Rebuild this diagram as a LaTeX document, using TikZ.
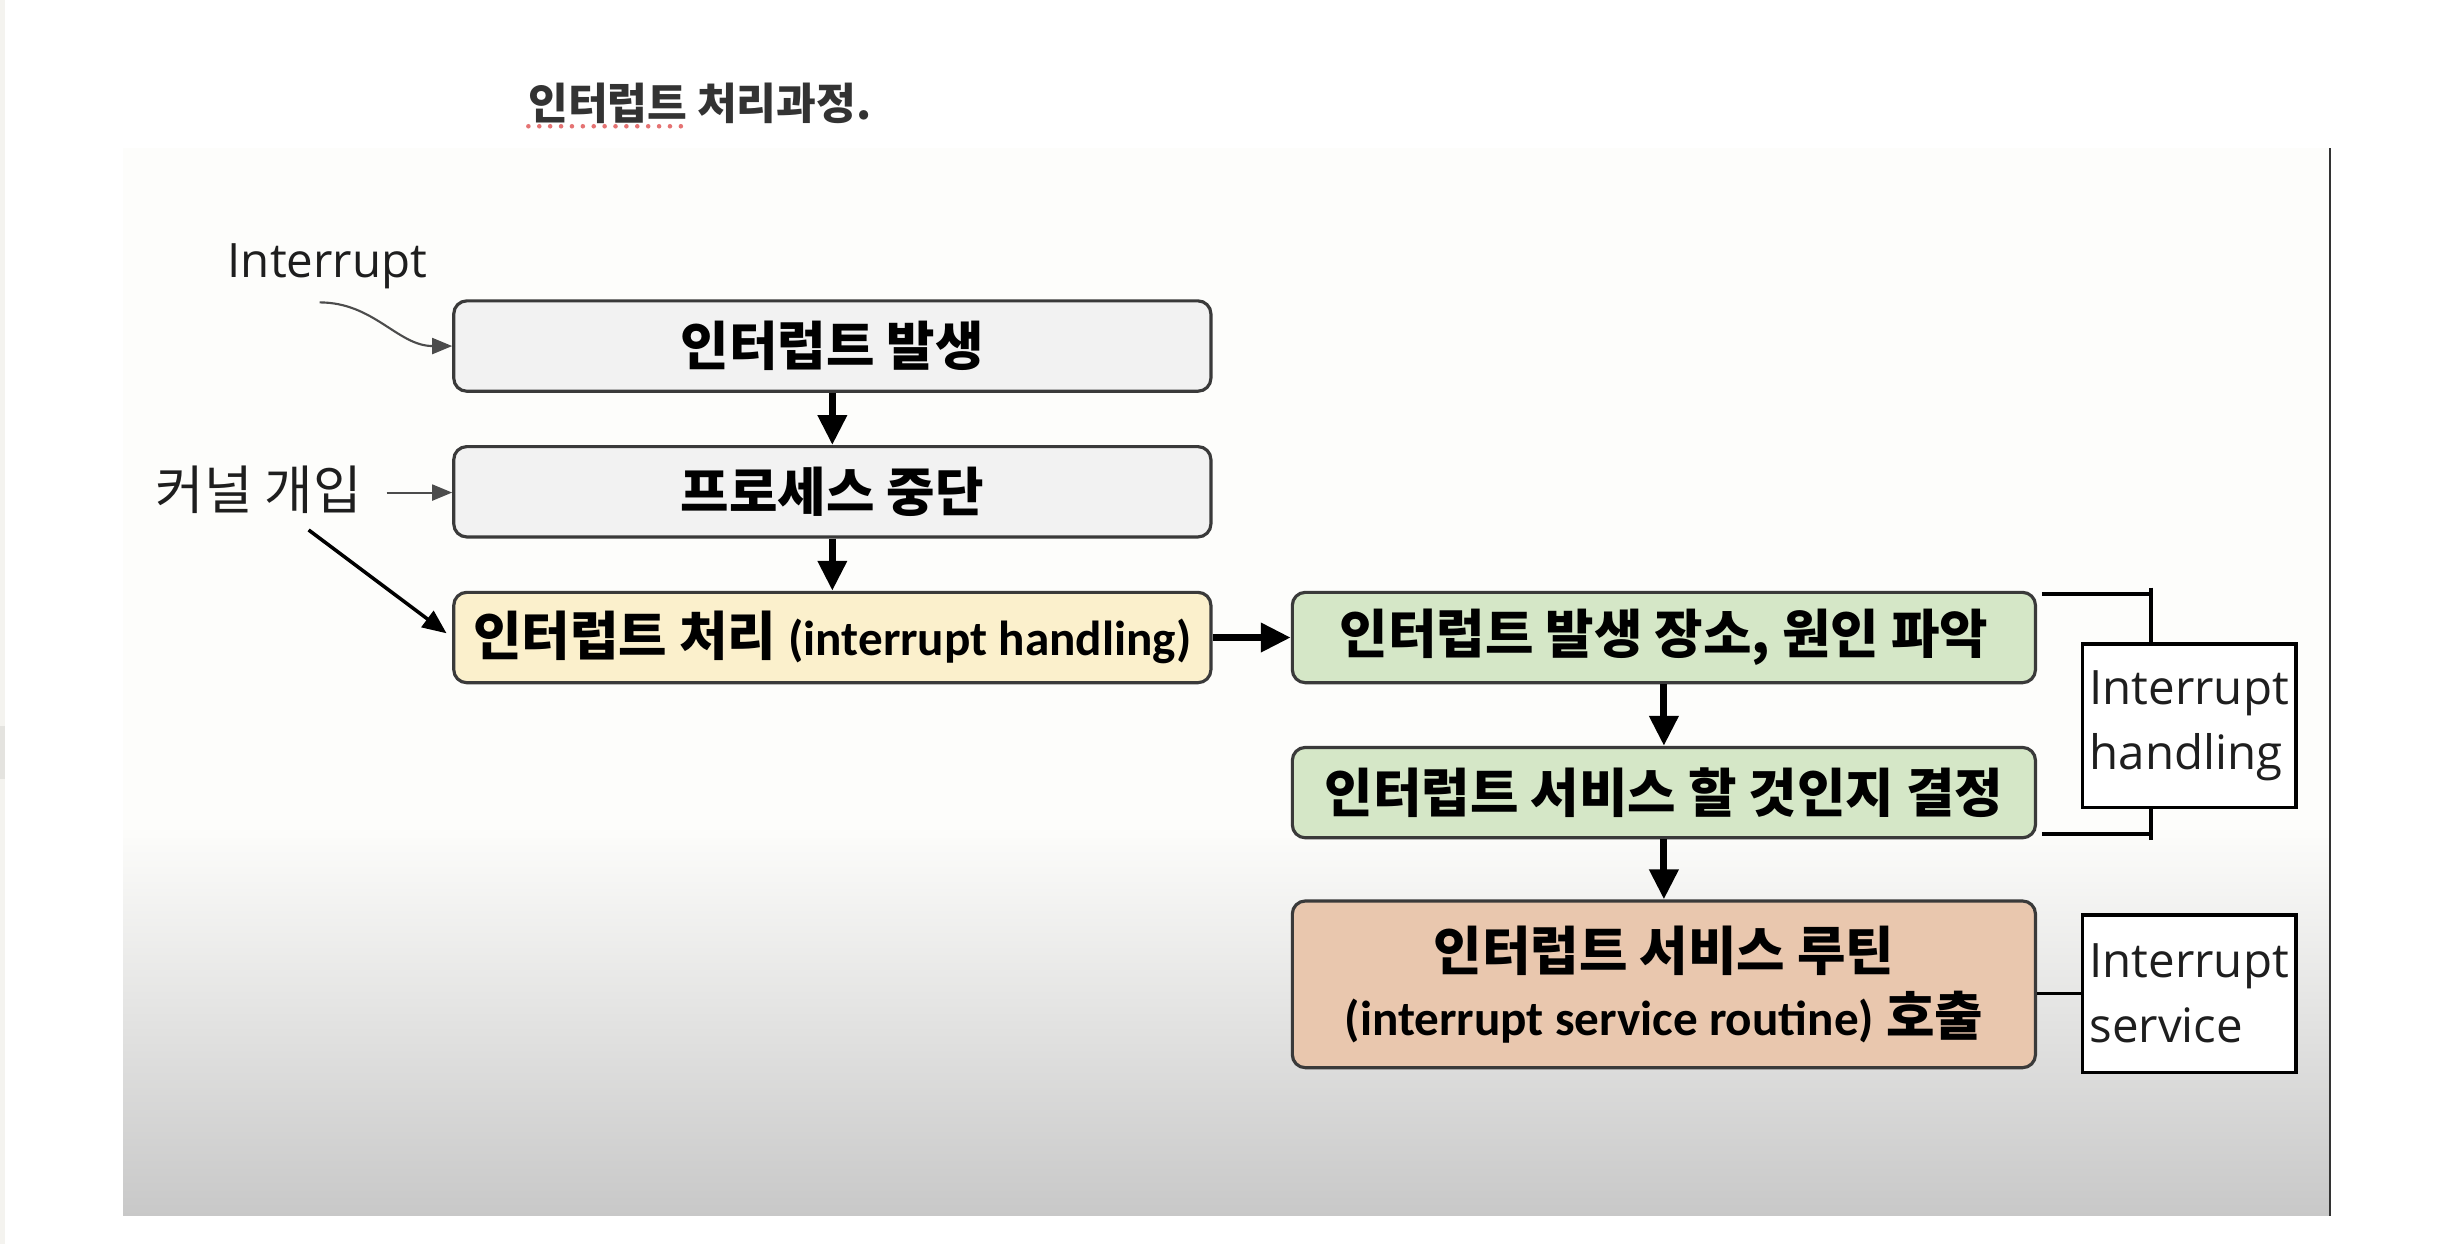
\documentclass[tikz,border=0pt]{standalone}
\usepackage{fontspec}
\setmainfont{Carlito}
\newfontfamily\kr{Noto Sans CJK KR}
\newfontfamily\seg{Open Sans}
\usetikzlibrary{arrows.meta}

\definecolor{boxgray}{HTML}{F2F2F2}
\definecolor{boxcream}{HTML}{FBF0CC}
\definecolor{boxgreen}{HTML}{D5E7C7}
\definecolor{boxpeach}{HTML}{E9C7AE}
\definecolor{boxline}{HTML}{3A3A3A}
\definecolor{slidetop}{HTML}{FDFDFB}
\definecolor{slidebottom}{HTML}{C8C8C8}
\definecolor{pagestrip}{HTML}{F4F3EF}
\definecolor{pageblock}{HTML}{E4E3DF}
\definecolor{titletext}{HTML}{333333}
\definecolor{labeltext}{HTML}{1E1E1E}
\definecolor{spellred}{HTML}{E57373}

\newcommand{\flowfont}{\fontsize{15}{18.5}\selectfont}
\newcommand{\latinpart}{\fontsize{14}{18.5}\selectfont\rmfamily}
\newcommand{\sidefont}{\fontsize{13.5}{18.5}\selectfont}

\tikzset{
  flowbox/.style={draw=boxline, line width=0.9pt, rounded corners=0.13cm,
    minimum height=0.904cm, inner sep=0pt, align=center, text=black,
    font=\flowfont\bfseries\kr},
  arr/.style={-{Triangle[length=0.3cm,width=0.28cm]}, line width=2pt},
  thinarr/.style={-{Triangle[length=0.2cm,width=0.16cm]}, line width=0.6pt, draw=black!70},
  sidebox/.style={draw=black, line width=1pt, fill=white, align=left,
    inner xsep=2pt, inner ysep=0pt, text=labeltext, font=\sidefont\seg},
  brk/.style={line width=1pt},
}

\begin{document}
\begin{tikzpicture}[x=0.015587cm, y=-0.015587cm]
  \useasboundingbox (0,0) rectangle (1568,798);

  % page and slide background
  \fill[white] (0,0) rectangle (1568,798);
  \fill[pagestrip] (0,0) rectangle (3,798);
  \fill[pageblock] (0,466) rectangle (3,500);
  \fill[slidetop] (79,95) rectangle (1495,531);
  \shade[top color=slidetop, bottom color=slidebottom] (79,530) rectangle (1495,780);
  \draw[line width=0.7pt, black!80] (1495,95) -- (1495,780);

  % title
  \node[font=\fontsize{12.3}{14}\selectfont\bfseries\kr, text=titletext] (title) at (449,66) {인터럽트 처리과정.};
  \draw[spellred, line width=1.3pt, line cap=round, dash pattern=on 0pt off 3.1pt] (339,81) -- (440,81);

  % flow boxes
  \node[flowbox, fill=boxgray, minimum width=7.575cm] (occur) at (534,222) {인터럽트 발생};
  \node[flowbox, fill=boxgray, minimum width=7.575cm] (stop) at (534,315.5) {프로세스 중단};
  \node[flowbox, fill=boxcream, minimum width=7.575cm] (handle) at (534,409)
    {인터럽트 처리 {\latinpart (interrupt handling)}};
  \node[flowbox, fill=boxgreen, minimum width=7.435cm] (locate) at (1067.5,409) {인터럽트 발생 장소, 원인 파악};
  \node[flowbox, fill=boxgreen, minimum width=7.435cm] (decide) at (1067.5,508.5) {인터럽트 서비스 할 것인지 결정};
  \node[flowbox, fill=boxpeach, minimum width=7.435cm, minimum height=1.668cm] (isr) at (1067.5,631.5)
    {인터럽트 서비스 루틴\\{\latinpart (interrupt service routine)} 호출};

  \draw[arr] (occur) -- (stop);
  \draw[arr] (stop) -- (handle);
  \draw[arr] (handle) -- (locate);
  \draw[arr] (locate) -- (decide);
  \draw[arr] (decide) -- (isr);

  % labels on the left
  \node[font=\sidefont\seg, text=labeltext] (intlabel) at (210,171) {Interrupt};
  \node[font=\fontsize{15}{17}\selectfont\kr, text=labeltext] (kernel) at (166,314) {커널 개입};
  \coordinate (intfrom) at (205,194);
  \coordinate (kfrom) at (248,316);
  \coordinate (kdiag) at (198,340);
  \draw[thinarr] (intfrom) to[out=0, in=180] (occur.west);
  \draw[thinarr] (kfrom) -- (kfrom -| stop.west);
  \draw[-{Triangle[length=0.24cm,width=0.2cm]}, line width=1pt, shorten >=2pt] (kdiag) -- (handle.west);

  % side notes
  \node[sidebox, minimum height=1.637cm] (hbox) at (1404.5,465.5) {Interrupt\\handling};
  \node[sidebox, minimum height=1.574cm] (sbox) at (1404.5,637.5) {Interrupt\\service};

  \coordinate (htop) at (1380,381);
  \coordinate (htick) at (1380,377);
  \coordinate (hbot) at (1380,535);
  \coordinate (btick) at (1380,539);
  \draw[brk] (1310,381) -- (htop);
  \draw[brk] (htick) -- (htick |- hbox.north);
  \draw[brk] (1310,535) -- (hbot);
  \draw[brk] (btick) -- (btick |- hbox.south);
  \draw[brk] (isr.east |- sbox.west) -- (sbox.west);
\end{tikzpicture}
\end{document}
